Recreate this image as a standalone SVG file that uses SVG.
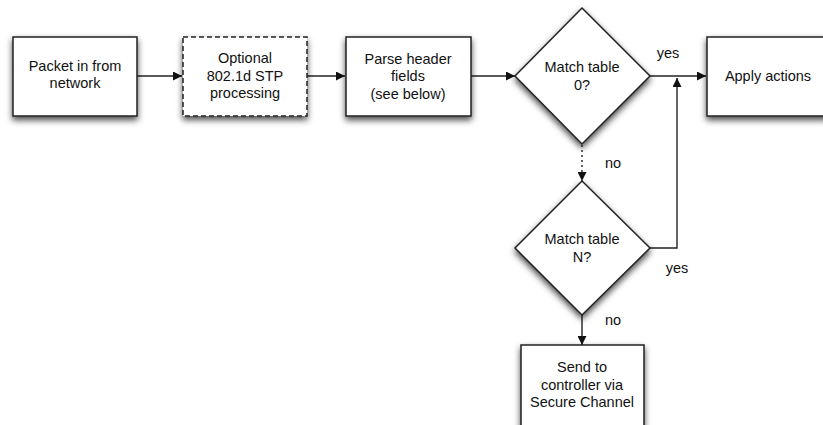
<svg xmlns="http://www.w3.org/2000/svg" width="823" height="425" viewBox="0 0 823 425">
<defs>
<filter id="sh" x="-20%" y="-20%" width="140%" height="150%">
<feDropShadow dx="0" dy="3.5" stdDeviation="3" flood-color="#000" flood-opacity="0.7"/>
</filter>
<marker id="ah" viewBox="0 0 10 10" refX="10" refY="5" markerWidth="11" markerHeight="9" markerUnits="userSpaceOnUse" orient="auto">
<path d="M0,0 L10,5 L0,10 Z" fill="#111"/>
</marker>
<style>
.n{fill:#fff;stroke:#222;stroke-width:1.5;filter:url(#sh)}
.d{stroke-dasharray:5 3}
.t{font-family:"Liberation Sans",Arial,sans-serif;font-size:14.5px;fill:#111;text-anchor:middle}
.c{fill:none;stroke:#222;stroke-width:1.4}
.dot{stroke-dasharray:2 3}
</style>
</defs>
<g id="connectors">
<line class="c" x1="137" y1="76" x2="182" y2="76" marker-end="url(#ah)"/>
<line class="c" x1="307" y1="76" x2="345" y2="76" marker-end="url(#ah)"/>
<line class="c" x1="471" y1="76" x2="515" y2="76" marker-end="url(#ah)"/>
<line class="c" x1="650" y1="76" x2="706" y2="76" marker-end="url(#ah)"/>
<line class="c dot" x1="582" y1="145" x2="582" y2="181" marker-end="url(#ah)"/>
<polyline class="c" points="650,248 677,248 677,78" marker-end="url(#ah)"/>
<line class="c" x1="582" y1="315" x2="582" y2="345" marker-end="url(#ah)"/>
<text class="t" x="668" y="58">yes</text>
<text class="t" x="613" y="168">no</text>
<text class="t" x="677" y="273">yes</text>
<text class="t" x="613" y="325">no</text>
</g>
<g id="packet-in">
<rect class="n" x="13" y="37" width="124" height="79"/>
<text class="t" x="75" y="71">Packet in from</text>
<text class="t" x="75" y="88">network</text>
</g>
<g id="stp">
<rect class="n d" x="183" y="37" width="124" height="79"/>
<text class="t" x="245" y="63">Optional</text>
<text class="t" x="245" y="81">802.1d STP</text>
<text class="t" x="245" y="98">processing</text>
</g>
<g id="parse">
<rect class="n" x="346" y="37" width="125" height="79"/>
<text class="t" x="408" y="64">Parse header</text>
<text class="t" x="408" y="81">fields</text>
<text class="t" x="408" y="99">(see below)</text>
</g>
<g id="match0">
<polygon class="n" points="582,8 650,76 582,144 515,76"/>
<text class="t" x="582" y="72">Match table</text>
<text class="t" x="582" y="90">0?</text>
</g>
<g id="apply">
<rect class="n" x="707" y="37" width="122" height="79"/>
<text class="t" x="768" y="81">Apply actions</text>
</g>
<g id="matchN">
<polygon class="n" points="582,181 650,248 582,315 515,248"/>
<text class="t" x="582" y="244">Match table</text>
<text class="t" x="582" y="262">N?</text>
</g>
<g id="send">
<rect class="n" x="521" y="345" width="123" height="85"/>
<text class="t" x="582" y="372">Send to</text>
<text class="t" x="582" y="390">controller via</text>
<text class="t" x="582" y="407">Secure Channel</text>
</g>
</svg>
